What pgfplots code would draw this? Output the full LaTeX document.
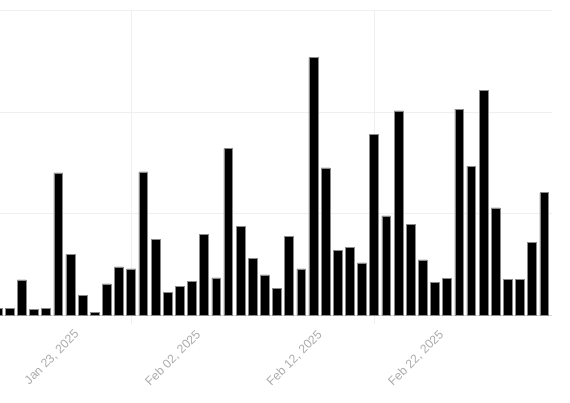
\documentclass[border=0pt]{standalone}
\usepackage{pgfplots}
\pgfplotsset{compat=1.18}
\usepackage{fontspec}
\setmainfont{Liberation Sans}
\definecolor{labelgray}{HTML}{ABABAB}
\definecolor{gridgray}{HTML}{EFEFEF}
\definecolor{zerogray}{HTML}{D8D8D8}
\definecolor{edgegray}{HTML}{8A8A8A}
\begin{document}
\begin{tikzpicture}[x=1bp,y=1bp]
\useasboundingbox (0,0) rectangle (570,402);
\clip (0,0) rectangle (570,402);
\begin{axis}[
  at={(-39.0bp,78bp)}, anchor=south west,
  x=12.15bp, y=1.017bp,
  xmin=-10, xmax=38.64, ymin=-8.4, ymax=300,
  axis line style={draw=none},
  major tick length=0pt,
  xtick={0,10,20,30},
  xticklabels={{Jan 23, 2025},{Feb 02, 2025},{Feb 12, 2025},{Feb 22, 2025}},
  xticklabel style={xshift=-9bp, yshift=-2bp, rotate=45, anchor=north east, text=labelgray,
    font=\fontsize{12.3}{14}\selectfont, inner sep=2pt},
  extra x ticks={4,24},
  extra x tick labels={},
  extra x tick style={xmajorgrids=true, grid style={gridgray, line width=0.8bp}},
  ytick={100,200,300},
  yticklabels={},
  ymajorgrids=true,
  grid style={gridgray, line width=0.8bp},
  extra y ticks={0},
  extra y tick labels={},
  extra y tick style={grid style={zerogray, line width=0.8bp}},
]
\addplot[ybar, bar width=8.8bp, fill=black, draw=edgegray, line width=0.5bp] coordinates {
(-7,6.7) (-6,6.7) (-5,34.9) (-4,5.7) (-3,6.7) (-2,140.1) (-1,59.8)
(0,19.9) (1,2.8) (2,31.0) (3,47.7) (4,45.7) (5,141.1) (6,74.9) (7,22.8) (8,28.7) (9,33.6)
(10,79.8) (11,36.9) (12,164.0) (13,87.7) (14,55.9) (15,39.8) (16,26.7) (17,77.9) (18,45.7) (19,253.5)
(20,145.0) (21,64.1) (22,66.7) (23,51.6) (24,178.2) (25,97.8) (26,201.1) (27,89.7) (28,54.6) (29,32.6)
(30,36.6) (31,203.0) (32,146.7) (33,221.0) (34,105.7) (35,35.6) (36,35.6) (37,72.0) (38,120.7)
};
\end{axis}
\end{tikzpicture}
\end{document}
